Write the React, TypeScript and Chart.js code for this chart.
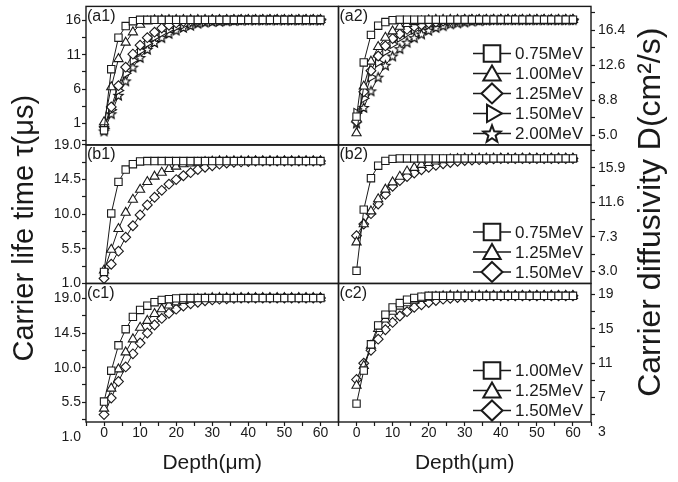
import React, { useEffect, useRef } from 'react';
import { Chart, registerables } from 'chart.js';

Chart.register(...registerables);

const FONT = '"Liberation Sans", Arial, Helvetica, sans-serif';
const INK = '#1a1a1a';

// ---------- data ----------
const DEPTH = [0, 2, 4, 6, 8, 10, 12, 14, 16, 18, 20, 22, 24, 26, 28, 30, 32, 34, 36, 38, 40, 42, 44, 46, 48, 50, 52, 54, 56, 58, 60];

// (a1) carrier life time
const A1_075 = [0.0, 8.9, 13.5, 15.2, 15.9, 16.1, 16.1, 16.1, 16.1, 16.1, 16.1, 16.1, 16.1, 16.1, 16.1, 16.1, 16.1, 16.1, 16.1, 16.1, 16.1, 16.1, 16.1, 16.1, 16.1, 16.1, 16.1, 16.1, 16.1, 16.1, 16.1];
const A1_100 = [1.2, 6.3, 10.4, 12.8, 14.3, 15.4, 15.9, 16.05, 16.1, 16.1, 16.1, 16.1, 16.1, 16.1, 16.1, 16.1, 16.1, 16.1, 16.1, 16.1, 16.1, 16.1, 16.1, 16.1, 16.1, 16.1, 16.1, 16.1, 16.1, 16.1, 16.1];
const A1_125 = [0.5, 3.4, 6.5, 9.2, 11.1, 12.4, 13.5, 14.3, 14.9, 15.3, 15.65, 15.85, 15.95, 16.0, 16.05, 16.1, 16.1, 16.1, 16.1, 16.1, 16.1, 16.1, 16.1, 16.1, 16.1, 16.1, 16.1, 16.1, 16.1, 16.1, 16.1];
const A1_150 = [0.3, 3.0, 5.8, 8.3, 10.2, 11.6, 12.7, 13.6, 14.2, 14.7, 15.1, 15.4, 15.6, 15.75, 15.85, 15.9, 15.95, 16.0, 16.05, 16.1, 16.1, 16.1, 16.1, 16.1, 16.1, 16.1, 16.1, 16.1, 16.1, 16.1, 16.1];
const A1_200 = [-0.1, 2.4, 5.1, 7.2, 9.2, 10.6, 11.8, 12.8, 13.5, 14.1, 14.6, 15.0, 15.3, 15.6, 15.75, 15.85, 15.9, 15.95, 16.0, 16.05, 16.1, 16.1, 16.1, 16.1, 16.1, 16.1, 16.1, 16.1, 16.1, 16.1, 16.1];

// (a2) carrier diffusivity
const A2_075 = [7.0, 12.9, 15.9, 16.9, 17.3, 17.5, 17.55, 17.55, 17.55, 17.55, 17.55, 17.55, 17.55, 17.55, 17.55, 17.55, 17.55, 17.55, 17.55, 17.55, 17.55, 17.55, 17.55, 17.55, 17.55, 17.55, 17.55, 17.55, 17.55, 17.55, 17.55];
const A2_100 = [5.2, 10.3, 13.0, 14.6, 15.6, 16.3, 16.8, 17.1, 17.3, 17.4, 17.5, 17.55, 17.55, 17.55, 17.55, 17.55, 17.55, 17.55, 17.55, 17.55, 17.55, 17.55, 17.55, 17.55, 17.55, 17.55, 17.55, 17.55, 17.55, 17.55, 17.55];
const A2_125 = [6.5, 9.7, 12.0, 13.6, 14.7, 15.5, 16.0, 16.5, 16.8, 17.0, 17.2, 17.3, 17.4, 17.45, 17.5, 17.55, 17.55, 17.55, 17.55, 17.55, 17.55, 17.55, 17.55, 17.55, 17.55, 17.55, 17.55, 17.55, 17.55, 17.55, 17.55];
const A2_150 = [7.4, 9.0, 11.3, 12.9, 14.1, 14.9, 15.6, 16.1, 16.5, 16.8, 17.0, 17.2, 17.3, 17.4, 17.45, 17.5, 17.55, 17.55, 17.55, 17.55, 17.55, 17.55, 17.55, 17.55, 17.55, 17.55, 17.55, 17.55, 17.55, 17.55, 17.55];
const A2_200 = [6.3, 8.0, 9.8, 11.3, 12.6, 13.6, 14.4, 15.1, 15.6, 16.0, 16.4, 16.7, 16.9, 17.1, 17.2, 17.3, 17.4, 17.45, 17.5, 17.55, 17.55, 17.55, 17.55, 17.55, 17.55, 17.55, 17.55, 17.55, 17.55, 17.55, 17.55];

// (b1)
const B1_075 = [2.5, 10.1, 14.2, 15.8, 16.5, 16.85, 16.9, 16.9, 16.9, 16.9, 16.9, 16.9, 16.9, 16.9, 16.9, 16.9, 16.9, 16.9, 16.9, 16.9, 16.9, 16.9, 16.9, 16.9, 16.9, 16.9, 16.9, 16.9, 16.9, 16.9, 16.9];
const B1_125 = [2.7, 5.4, 8.1, 10.2, 11.9, 13.2, 14.2, 14.9, 15.4, 15.9, 16.2, 16.5, 16.6, 16.7, 16.8, 16.85, 16.9, 16.9, 16.9, 16.9, 16.9, 16.9, 16.9, 16.9, 16.9, 16.9, 16.9, 16.9, 16.9, 16.9, 16.9];
const B1_150 = [1.65, 3.5, 5.2, 7.0, 8.5, 9.9, 11.2, 12.2, 13.1, 13.9, 14.5, 15.0, 15.4, 15.8, 16.1, 16.3, 16.5, 16.65, 16.75, 16.8, 16.85, 16.9, 16.9, 16.9, 16.9, 16.9, 16.9, 16.9, 16.9, 16.9, 16.9];

// (b2)
const B2_075 = [3.1, 10.7, 14.6, 16.15, 16.75, 17.0, 17.05, 17.05, 17.05, 17.05, 17.05, 17.05, 17.05, 17.05, 17.05, 17.05, 17.05, 17.05, 17.05, 17.05, 17.05, 17.05, 17.05, 17.05, 17.05, 17.05, 17.05, 17.05, 17.05, 17.05, 17.05];
const B2_125 = [6.65, 8.9, 10.5, 12.0, 13.2, 14.1, 14.8, 15.45, 15.9, 16.27, 16.5, 16.7, 16.85, 16.95, 17.0, 17.05, 17.05, 17.05, 17.05, 17.05, 17.05, 17.05, 17.05, 17.05, 17.05, 17.05, 17.05, 17.05, 17.05, 17.05, 17.05];
const B2_150 = [7.46, 8.9, 10.2, 11.4, 12.6, 13.6, 14.3, 14.8, 15.25, 15.65, 15.95, 16.2, 16.4, 16.55, 16.7, 16.8, 16.85, 16.9, 16.95, 17.0, 17.05, 17.05, 17.05, 17.05, 17.05, 17.05, 17.05, 17.05, 17.05, 17.05, 17.05];

// (c1)
const C1_100 = [5.6, 9.6, 12.9, 15.0, 16.6, 17.5, 18.05, 18.5, 18.8, 18.9, 19.0, 19.05, 19.05, 19.05, 19.05, 19.05, 19.05, 19.05, 19.05, 19.05, 19.05, 19.05, 19.05, 19.05, 19.05, 19.05, 19.05, 19.05, 19.05, 19.05, 19.05];
const C1_125 = [4.7, 7.3, 9.8, 12.0, 13.7, 15.2, 16.1, 17.0, 17.6, 18.1, 18.5, 18.7, 18.85, 18.95, 19.0, 19.05, 19.05, 19.05, 19.05, 19.05, 19.05, 19.05, 19.05, 19.05, 19.05, 19.05, 19.05, 19.05, 19.05, 19.05, 19.05];
const C1_150 = [3.9, 6.05, 8.2, 10.1, 11.8, 13.2, 14.5, 15.55, 16.4, 17.06, 17.6, 18.0, 18.3, 18.5, 18.7, 18.8, 18.9, 18.95, 19.0, 19.05, 19.05, 19.05, 19.05, 19.05, 19.05, 19.05, 19.05, 19.05, 19.05, 19.05, 19.05];

// (c2)
const C2_100 = [6.3, 10.15, 13.2, 15.4, 16.65, 17.5, 18.0, 18.4, 18.6, 18.75, 18.85, 18.85, 18.85, 18.85, 18.85, 18.85, 18.85, 18.85, 18.85, 18.85, 18.85, 18.85, 18.85, 18.85, 18.85, 18.85, 18.85, 18.85, 18.85, 18.85, 18.85];
const C2_125 = [8.4, 10.7, 13.05, 15.0, 16.1, 17.0, 17.6, 18.0, 18.3, 18.5, 18.65, 18.75, 18.8, 18.85, 18.85, 18.85, 18.85, 18.85, 18.85, 18.85, 18.85, 18.85, 18.85, 18.85, 18.85, 18.85, 18.85, 18.85, 18.85, 18.85, 18.85];
const C2_150 = [9.1, 11.0, 12.5, 13.8, 14.9, 15.75, 16.5, 17.0, 17.5, 17.8, 18.07, 18.3, 18.45, 18.55, 18.65, 18.7, 18.75, 18.8, 18.85, 18.85, 18.85, 18.85, 18.85, 18.85, 18.85, 18.85, 18.85, 18.85, 18.85, 18.85, 18.85];

const A_LABELS = ['0.75MeV', '1.00MeV', '1.25MeV', '1.50MeV', '2.00MeV'];
const B_LABELS = ['0.75MeV', '1.25MeV', '1.50MeV'];
const C_LABELS = ['1.00MeV', '1.25MeV', '1.50MeV'];

const A1_TICKS = ['1', '6', '11', '16'];
const B1_TICKS = ['1.0', '5.5', '10.0', '14.5', '19.0'];
const C1_TICKS = ['1.0', '5.5', '10.0', '14.5', '19.0'];
const A2_TICKS = ['5.0', '8.8', '12.6', '16.4'];
const B2_TICKS = ['3.0', '7.3', '11.6', '15.9'];
const C2_TICKS = ['3', '7', '11', '15', '19'];
const X_TICKS = ['0', '10', '20', '30', '40', '50', '60'];

const LEFT_TITLE = 'Carrier life time τ(μs)';
const RIGHT_TITLE = 'Carrier diffusivity D(cm²/s)';
const X_TITLE = 'Depth(μm)';

// ---------- styling ----------
type Mk = { style: string; rot: number; r: number };
const SQ: Mk = { style: 'rect', rot: 0, r: 5.2 };
const TRI: Mk = { style: 'triangle', rot: 0, r: 5.3 };
const DIA: Mk = { style: 'rectRot', rot: 0, r: 4.9 };
const RTRI: Mk = { style: 'triangle', rot: 90, r: 5.3 };
const STAR: Mk = { style: 'star', rot: 0, r: 5 };

const PANELS = [
  { name: '(a1)', x: 'xL', y: 'yA1', labels: A_LABELS, series: [A1_075, A1_100, A1_125, A1_150, A1_200], marks: [SQ, TRI, DIA, RTRI, STAR], legend: false },
  { name: '(b1)', x: 'xL', y: 'yB1', labels: B_LABELS, series: [B1_075, B1_125, B1_150], marks: [SQ, TRI, DIA], legend: false },
  { name: '(c1)', x: 'xL', y: 'yC1', labels: C_LABELS, series: [C1_100, C1_125, C1_150], marks: [SQ, TRI, DIA], legend: false },
  { name: '(a2)', x: 'xR', y: 'yA2', labels: A_LABELS, series: [A2_075, A2_100, A2_125, A2_150, A2_200], marks: [SQ, TRI, DIA, RTRI, STAR], legend: true },
  { name: '(b2)', x: 'xR', y: 'yB2', labels: B_LABELS, series: [B2_075, B2_125, B2_150], marks: [SQ, TRI, DIA], legend: true },
  { name: '(c2)', x: 'xR', y: 'yC2', labels: C_LABELS, series: [C2_100, C2_125, C2_150], marks: [SQ, TRI, DIA], legend: true },
];

function starPath(g: CanvasRenderingContext2D, cx: number, cy: number, R: number, r: number) {
  g.beginPath();
  for (let i = 0; i < 10; i++) {
    const a = -Math.PI / 2 + (i * Math.PI) / 5;
    const rad = i % 2 === 0 ? R : r;
    const px = cx + Math.cos(a) * rad;
    const py = cy + Math.sin(a) * rad;
    if (i === 0) g.moveTo(px, py);
    else g.lineTo(px, py);
  }
  g.closePath();
}

function makeStar(R: number, lw: number): HTMLCanvasElement {
  const size = Math.ceil(R * 2 + lw * 2 + 2);
  const c = document.createElement('canvas');
  c.width = size;
  c.height = size;
  const g = c.getContext('2d')!;
  starPath(g, size / 2, size / 2 + R * 0.1, R, R * 0.45);
  g.fillStyle = '#fff';
  g.fill();
  g.lineWidth = lw;
  g.strokeStyle = '#000';
  g.stroke();
  return c;
}

function legendMarker(ctx: CanvasRenderingContext2D, m: Mk, x: number, y: number) {
  ctx.beginPath();
  if (m.style === 'rect') {
    ctx.rect(x - 8.3, y - 8.3, 16.6, 16.6);
  } else if (m.style === 'rectRot') {
    ctx.moveTo(x, y - 10);
    ctx.lineTo(x + 10.5, y);
    ctx.lineTo(x, y + 10);
    ctx.lineTo(x - 10.5, y);
    ctx.closePath();
  } else if (m.style === 'triangle') {
    const r = 10;
    let a = (m.rot * Math.PI) / 180;
    for (let k = 0; k < 3; k++) {
      const px = x + Math.sin(a) * r;
      const py = y - Math.cos(a) * r + (m.rot === 0 ? 2 : 0);
      if (k === 0) ctx.moveTo(px, py);
      else ctx.lineTo(px, py);
      a += (2 * Math.PI) / 3;
    }
    ctx.closePath();
  } else {
    starPath(ctx, x, y + 1, 9, 3.8);
  }
  ctx.fillStyle = '#fff';
  ctx.fill();
  ctx.lineWidth = 2;
  ctx.strokeStyle = INK;
  ctx.stroke();
}

function tickValues(labels: string[], min: number, max: number): number[] {
  const major = labels.map(Number);
  const step = major[1] - major[0];
  const all = [...major];
  for (let i = -1; i < major.length; i++) {
    const v = major[0] + (i + 0.5) * step;
    if (v >= min - 1e-9 && v <= max + 1e-9) all.push(v);
  }
  return all.sort((a, b) => a - b);
}

function labelFor(labels: string[]) {
  const major = labels.map(Number);
  return (_v: any, i: number, ticks: any[]) => {
    const val = ticks[i].value;
    const j = major.findIndex((m) => Math.abs(m - val) < 1e-6);
    return j >= 0 ? labels[j] : '';
  };
}

function tickColorFor(min: number, max: number) {
  return (c: any) => {
    const v = c.tick ? c.tick.value : min;
    return v < min - 1e-9 || v > max + 1e-9 ? 'rgba(0,0,0,0)' : INK;
  };
}

function yAxis(pos: 'left' | 'right', weight: number, min: number, max: number, labels: string[]) {
  const vals = tickValues(labels, min, max);
  return {
    type: 'linear',
    axis: 'y',
    position: pos,
    stack: pos,
    stackWeight: 1,
    weight,
    min,
    max,
    afterBuildTicks: (s: any) => {
      s.ticks = vals.map((v) => ({ value: v }));
    },
    afterFit: (s: any) => {
      s.width = pos === 'left' ? 86 : 87;
      s.paddingTop = 0;
      s.paddingBottom = 0;
    },
    ticks: {
      autoSkip: false,
      padding: pos === 'left' ? 1 : 3,
      color: INK,
      font: { size: 14, family: FONT },
      callback: labelFor(labels),
    },
    grid: { drawOnChartArea: false, drawTicks: true, tickLength: 4, tickColor: tickColorFor(min, max), tickWidth: 1.2, color: INK },
    border: { display: false },
  };
}

function xAxis(weight: number) {
  const vals = tickValues(X_TICKS, -5, 65);
  return {
    type: 'linear',
    axis: 'x',
    position: 'bottom',
    stack: 'bottom',
    stackWeight: 1,
    weight,
    min: -5,
    max: 65,
    afterBuildTicks: (s: any) => {
      s.ticks = vals.map((v) => ({ value: v }));
    },
    afterFit: (s: any) => {
      s.height = 60;
      s.paddingLeft = 0;
      s.paddingRight = 0;
    },
    ticks: {
      autoSkip: false,
      maxRotation: 0,
      padding: -1,
      color: INK,
      font: { size: 14, family: FONT },
      callback: labelFor(X_TICKS),
    },
    grid: { drawOnChartArea: false, drawTicks: true, tickLength: 4, tickColor: INK, tickWidth: 1.2, color: INK },
    border: { display: false },
    title: {
      display: true,
      text: X_TITLE,
      color: INK,
      font: { size: 21, family: FONT },
      padding: { top: 0, bottom: 6 },
    },
  };
}

const panelPlugin = {
  id: 'panelDecor',
  afterDraw(chart: any) {
    const ctx: CanvasRenderingContext2D = chart.ctx;
    ctx.save();
    PANELS.forEach((p) => {
      const xs = chart.scales[p.x];
      const ys = chart.scales[p.y];
      const L = xs.left;
      const R = xs.right;
      const T = ys.top;
      const B = ys.bottom;
      ctx.strokeStyle = INK;
      ctx.lineWidth = 1.4;
      ctx.strokeRect(L, T, R - L, B - T);
      ctx.fillStyle = INK;
      ctx.font = `16px ${FONT}`;
      ctx.textAlign = 'left';
      ctx.textBaseline = 'middle';
      ctx.fillText(p.name, L + 1, T + 10);
      if (p.legend) {
        const ds = chart.data.datasets.filter((d: any) => d.yAxisID === p.y);
        const n = ds.length;
        ds.forEach((d: any, i: number) => {
          const y = B - 11.5 - (n - 1 - i) * 20;
          const cx = R - 99;
          ctx.beginPath();
          ctx.moveTo(R - 118, y);
          ctx.lineTo(R - 80, y);
          ctx.lineWidth = 1.5;
          ctx.strokeStyle = INK;
          ctx.stroke();
          legendMarker(ctx, d.mk, cx, y);
          ctx.fillStyle = INK;
          ctx.font = `17px ${FONT}`;
          ctx.textAlign = 'left';
          ctx.textBaseline = 'middle';
          ctx.fillText(d.label, R - 76, y + 1);
        });
      }
    });
    const area = chart.chartArea;
    const midY = (area.top + area.bottom) / 2;
    ctx.fillStyle = INK;
    ctx.textAlign = 'center';
    ctx.textBaseline = 'alphabetic';
    ctx.save();
    ctx.translate(area.left - 53, midY + 14);
    ctx.rotate(-Math.PI / 2);
    ctx.font = `29px ${FONT}`;
    ctx.fillText(LEFT_TITLE, 0, 0);
    ctx.restore();
    ctx.save();
    ctx.translate(area.right + 69, midY - 2);
    ctx.rotate(-Math.PI / 2);
    ctx.font = `32px ${FONT}`;
    ctx.fillText(RIGHT_TITLE, 0, 0);
    ctx.restore();
    ctx.restore();
  },
};

export default function App() {
  const ref = useRef<HTMLCanvasElement>(null);
  useEffect(() => {
    Chart.defaults.font.family = FONT;
    const star = makeStar(5, 1.1);
    const datasets: any[] = [];
    PANELS.forEach((p) => {
      p.series.forEach((vals, k) => {
        const m = p.marks[k];
        datasets.push({
          label: p.labels[k],
          mk: m,
          data: DEPTH.map((d, i) => ({ x: d, y: vals[i] })),
          xAxisID: p.x,
          yAxisID: p.y,
          borderColor: INK,
          borderWidth: 1,
          backgroundColor: '#fff',
          pointStyle: m.style === 'star' ? star : m.style,
          pointRotation: m.rot,
          pointRadius: m.r,
          pointHoverRadius: m.r,
          pointBorderColor: INK,
          pointBackgroundColor: '#fff',
          pointBorderWidth: 1.1,
          fill: false,
          tension: 0,
          clip: false,
        });
      });
    });
    const chart = new Chart(ref.current!, {
      type: 'line',
      data: { datasets },
      options: {
        responsive: false,
        animation: false,
        events: [],
        layout: { padding: { top: 5, left: 0, right: 0, bottom: 0 } },
        plugins: { legend: { display: false }, tooltip: { enabled: false } },
        scales: {
          xL: xAxis(1),
          xR: xAxis(2),
          yA1: yAxis('left', 3, -2.14, 18.06, A1_TICKS),
          yB1: yAxis('left', 2, 1, 19, B1_TICKS),
          yC1: yAxis('left', 1, 2.94, 20.94, C1_TICKS),
          yA2: yAxis('right', 1, 3.92, 19.0, A2_TICKS),
          yB2: yAxis('right', 2, 1.53, 18.73, B2_TICKS),
          yC2: yAxis('right', 3, 4.16, 20.28, C2_TICKS),
        } as any,
      },
      plugins: [panelPlugin],
    } as any);
    return () => chart.destroy();
  }, []);
  return (
    <div style={{ position: 'absolute', left: 0, top: 0, width: 678, height: 482, background: '#fff' }}>
      <canvas ref={ref} width={678} height={482} style={{ display: 'block', width: 678, height: 482 }} />
    </div>
  );
}
